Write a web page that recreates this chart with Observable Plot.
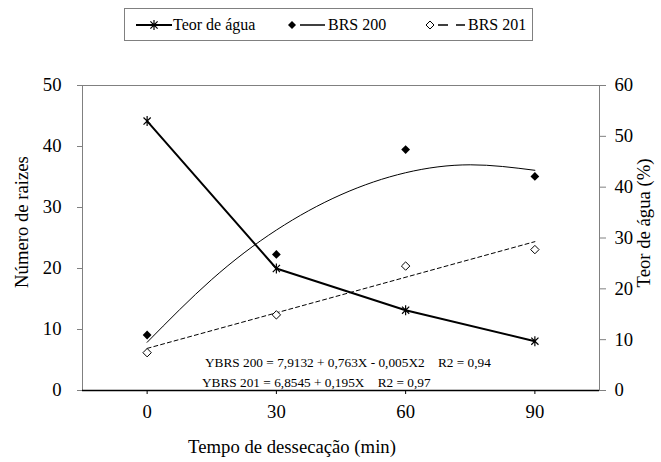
<!DOCTYPE html>
<html><head><meta charset="utf-8">
<style>
body{margin:0;background:#fff;}
#wrap, #wrap div, #wrap svg, #wrap text{font-family:'Liberation Serif','Times New Roman',serif !important;}
</style>
<script src="https://cdn.jsdelivr.net/npm/d3@7"></script>
<script src="https://cdn.jsdelivr.net/npm/@observablehq/plot@0.6"></script>
</head><body><div id="wrap" style="position:relative;width:661px;height:462px;color:#000;overflow:hidden;"></div>
<script>
// ---- data ----
const tempo = [0, 30, 60, 90];                 // Tempo de dessecação (min)
const teorAgua = [53.0, 24.0, 15.8, 9.7];      // Teor de água (%), right axis
const brs200 = [9.1, 22.3, 39.5, 35.1];        // Número de raizes, BRS 200
const brs201 = [6.2, 12.4, 20.4, 23.1];        // Número de raizes, BRS 201
const trend200Tempo = [0, 15, 30, 45, 60, 75, 90];
const trend200 = [7.9, 18.2, 26.3, 32.1, 35.7, 37.0, 36.1];
const trend201Tempo = [0, 90];
const trend201 = [6.9, 24.4];
const xTicks = [0, 30, 60, 90];
const leftTicks = [0, 10, 20, 30, 40, 50];
const rightTicks = [0, 10, 20, 30, 40, 50, 60];
const seriesNames = ["Teor de água", "BRS 200", "BRS 201"];
const equations = [
  "YBRS 200 = 7,9132 + 0,763X - 0,005X2    R2 = 0,94",
  "YBRS 201 = 6,8545 + 0,195X    R2 = 0,97"
];
const xTitle = "Tempo de dessecação (min)";
const yTitle = "Número de raizes";
const y2Title = "Teor de água (%)";

const k = 50 / 60; // right axis (0–60) mapped onto left axis (0–50)
const FONT = "'Liberation Serif', 'Times New Roman', serif";

const starSymbol = {draw(ctx, size) {
  const r = Math.sqrt(size / Math.PI), d = r * 0.72;
  ctx.moveTo(0, -r); ctx.lineTo(0, r);
  ctx.moveTo(-d, -d); ctx.lineTo(d, d);
  ctx.moveTo(-d, d); ctx.lineTo(d, -d);
}};
const diamondSymbol = {draw(ctx, size) {
  const h = Math.sqrt(size / Math.PI);
  ctx.moveTo(0, -h); ctx.lineTo(h, 0); ctx.lineTo(0, h); ctx.lineTo(-h, 0); ctx.closePath();
}};

const chart = Plot.plot({
  width: 661, height: 462,
  marginLeft: 82, marginRight: 62, marginTop: 85, marginBottom: 72,
  style: {fontFamily: FONT, fontSize: "18.7px", color: "#000", background: "transparent", overflow: "visible"},
  x: {domain: [-15, 105]},
  y: {domain: [0, 50]},
  marks: [
    Plot.frame({stroke: "#808080"}),
    Plot.axisY({ticks: leftTicks, tickSize: 5, tickPadding: 16, stroke: "#808080", fontSize: 18.7, label: null}),
    Plot.axisY({anchor: "right", ticks: rightTicks.map(v => v * k), tickFormat: d => String(Math.round(d / k)),
      tickSize: 6, tickPadding: 9, stroke: "#808080", fontSize: 18.7, label: null}),
    Plot.axisX({ticks: xTicks, tickSize: 4, tickPadding: 10, stroke: "#000", fontSize: 18.7, label: null}),
    Plot.ruleY([0], {stroke: "#000", strokeWidth: 1.3}),
    Plot.line(trend200, {x: trend200Tempo, y: trend200, curve: "natural", stroke: "#000", strokeWidth: 1}),
    Plot.line(trend201, {x: trend201Tempo, y: trend201, stroke: "#000", strokeWidth: 1, strokeDasharray: "4,3"}),
    Plot.line(teorAgua, {x: tempo, y: teorAgua.map(v => v * k), stroke: "#000", strokeWidth: 2}),
    Plot.dot(teorAgua, {x: tempo, y: teorAgua.map(v => v * k), symbol: starSymbol, r: 5, fill: "none", stroke: "#000", strokeWidth: 1.2}),
    Plot.dot(brs200, {x: tempo, y: brs200, symbol: diamondSymbol, r: 4.4, fill: "#000", stroke: "none"}),
    Plot.dot(brs201, {x: tempo, y: brs201, symbol: diamondSymbol, r: 4.2, fill: "#fff", stroke: "#000", strokeWidth: 1})
  ]
});
chart.style.position = "absolute";
chart.style.left = "0px";
chart.style.top = "0px";
chart.setAttribute("font-family", FONT);
chart.querySelectorAll("g, text").forEach(t => {
  t.setAttribute("font-family", FONT);
  t.style.setProperty("font-family", FONT, "important");
});

const wrap = document.getElementById("wrap");
wrap.appendChild(chart);

function addText(parent, txt, left, top, size, transform) {
  const d = document.createElement("div");
  d.textContent = txt;
  d.setAttribute("style",
    `position:absolute;white-space:pre;line-height:1;color:#000;` +
    `left:${left}px;top:${top}px;font-size:${size}px;transform:${transform};`);
  d.style.setProperty("font-family", FONT, "important");
  parent.appendChild(d);
  return d;
}
// axis titles
addText(wrap, xTitle, 292, 447, 18.7, "translate(-50%,-50%)");
addText(wrap, yTitle, 22, 222, 18.7, "translate(-50%,-50%) rotate(-90deg)");
addText(wrap, y2Title, 644, 223, 18.7, "translate(-50%,-50%) rotate(-90deg)");
// equations
addText(wrap, equations[0], 205, 363, 13.3, "translateY(-50%)");
addText(wrap, equations[1], 202, 383, 13.3, "translateY(-50%)");

// legend
const leg = document.createElement("div");
leg.setAttribute("style", "position:absolute;left:124px;top:8px;width:409px;height:33px;border:1px solid #808080;box-sizing:border-box;background:#fff;");
wrap.appendChild(leg);
const icons = [
  `<svg width="40" height="14"><line x1="2" y1="7" x2="38" y2="7" stroke="#000" stroke-width="2"/>
     <path d="M20,2V12M16.4,3.4L23.6,10.6M16.4,10.6L23.6,3.4" stroke="#000" stroke-width="1.2" fill="none"/></svg>`,
  `<svg width="40" height="14"><path d="M4,3L8,7L4,11L0,7Z" fill="#000"/>
     <line x1="12" y1="7" x2="37" y2="7" stroke="#000" stroke-width="1.5"/></svg>`,
  `<svg width="40" height="14"><path d="M4,3L8,7L4,11L0,7Z" fill="#fff" stroke="#000" stroke-width="1"/>
     <line x1="12" y1="7" x2="39" y2="7" stroke="#000" stroke-width="1.5" stroke-dasharray="10,8"/></svg>`
];
const iconX = [9, 163, 301];
const textX = [48, 203, 343];
seriesNames.forEach((name, i) => {
  const ic = document.createElement("div");
  ic.innerHTML = icons[i];
  ic.setAttribute("style", `position:absolute;left:${iconX[i]}px;top:9px;line-height:0;`);
  leg.appendChild(ic);
  addText(leg, name, textX[i], 16, 16, "translateY(-50%)");
});
</script>
</body></html>
